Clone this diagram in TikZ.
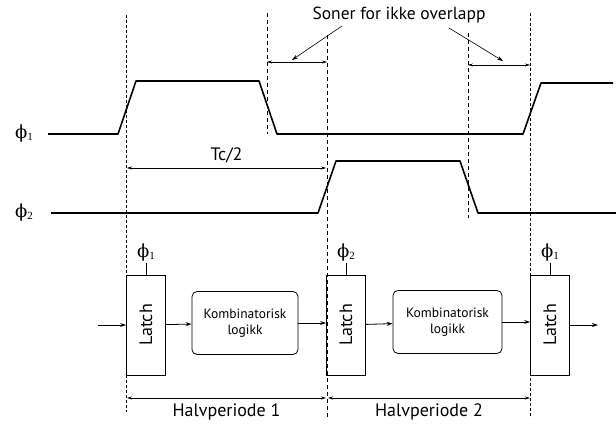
\documentclass[tikz,border=0pt]{standalone}
\usepackage{fontspec}
\setmainfont{PT Sans}
\newfontfamily\phifont{DejaVu Serif}
\newfontfamily\subfont{Liberation Serif}
\newcommand{\fase}[1]{{\phifont ϕ}\raisebox{-2pt}{\subfont\fontsize{11}{12}\selectfont #1}}
\usetikzlibrary{arrows.meta}

\begin{document}
\begin{tikzpicture}[x=1pt, y=-1pt, >={Stealth[length=6pt,width=4pt]},
      wave/.style = {line width=1.6pt, line join=round},
      guide/.style = {dash pattern=on 4pt off 3pt, line width=0.6pt},
      fineguide/.style = {dash pattern=on 3pt off 2pt, line width=0.6pt},
      dim/.style = {<->, line width=0.5pt, >={Stealth[length=5pt,width=3pt]}},
      latch/.style = {draw, line width=0.8pt, minimum width=39pt, minimum height=100pt,
        inner sep=0pt, font=\fontsize{18}{20}\selectfont},
      comb/.style = {draw, rounded corners=5pt, line width=0.8pt, align=center,
        minimum height=63pt, font=\fontsize{13.5}{16}\selectfont},
      phase/.style = {font=\fontsize{18}{20}\selectfont, inner sep=1pt}]
  \useasboundingbox (0,0) rectangle (616,428);
  % klokkesignaler
  \node[phase] (p1) at (24,134) {\fase{1}};
  \node[phase] (p2) at (24,213) {\fase{2}};
  \draw[wave] (48,134) -- (118,134) -- (136,81) -- (259,81) -- (277,134)
    -- (523,134) -- (541,83) -- (613,83);
  \draw[wave] (51,213) -- (318,213) -- (336,161) -- (460,161) -- (478,213) -- (616,213);
  % hjelpelinjer
  \draw[fineguide] (126,15) -- (126,412);
  \draw[guide] (267,13) -- (267,134);
  \draw[guide] (327,35) -- (327,417);
  \draw[guide] (468,33) -- (468,218);
  \draw[fineguide] (530,13) -- (530,418);
  % soner for ikke overlapp
  \node[font=\fontsize{17.5}{19}\selectfont] (soner) at (399,15) {Soner for ikke overlapp};
  \draw[dim] (267,62) -- (327,62);
  \draw[dim] (468,65) -- (530,65);
  \draw[->, line width=0.6pt] (342,26) -- (292,60);
  \draw[->, line width=0.6pt] (449,28) -- (503,61);
  \draw[dim] (127,168) -- (326,168) node[midway, above=1pt, font=\fontsize{18}{20}\selectfont] {Tc/2};
  % latcher og logikk
  \node[latch] (l1) at (146,325) {\rotatebox{90}{Latch}};
  \node[comb, minimum width=106pt] (k1) at (245,323) {Kombinatorisk\\logikk};
  \node[latch] (l2) at (346,325) {\rotatebox{90}{Latch}};
  \node[comb, minimum width=109pt] (k2) at (447.5,322) {Kombinatorisk\\logikk};
  \node[latch] (l3) at (550,325) {\rotatebox{90}{Latch}};
  \coordinate (inn) at (98,325);
  \coordinate (ut) at (598,325);
  \draw[->, line width=0.8pt] (inn) -- (l1);
  \draw[->, line width=0.8pt] (l1) -- (k1);
  \draw[->, line width=0.8pt] (k1) -- (k1 -| l2.west);
  \draw[->, line width=0.8pt] (l2) -- (k2);
  \draw[->, line width=0.8pt] (k2) -- (k2 -| l3.west);
  \draw[->, line width=0.8pt] (l3) -- (ut);
  \draw[line width=0.8pt] (l1.north) -- ++(0,-12) node[phase, above] {\fase{1}};
  \draw[line width=0.8pt] (l2.north) -- ++(0,-12) node[phase, above] {\fase{2}};
  \draw[line width=0.8pt] (l3.north) -- ++(0,-12) node[phase, above] {\fase{1}};
  % halvperioder
  \draw[dim, line width=0.8pt] (127,398) -- (326,398)
    node[midway, below=2pt, font=\fontsize{18}{20}\selectfont] {Halvperiode 1};
  \draw[dim, line width=0.8pt] (328,398) -- (530,398)
    node[midway, below=2pt, font=\fontsize{18}{20}\selectfont] {Halvperiode 2};
\end{tikzpicture}
\end{document}
